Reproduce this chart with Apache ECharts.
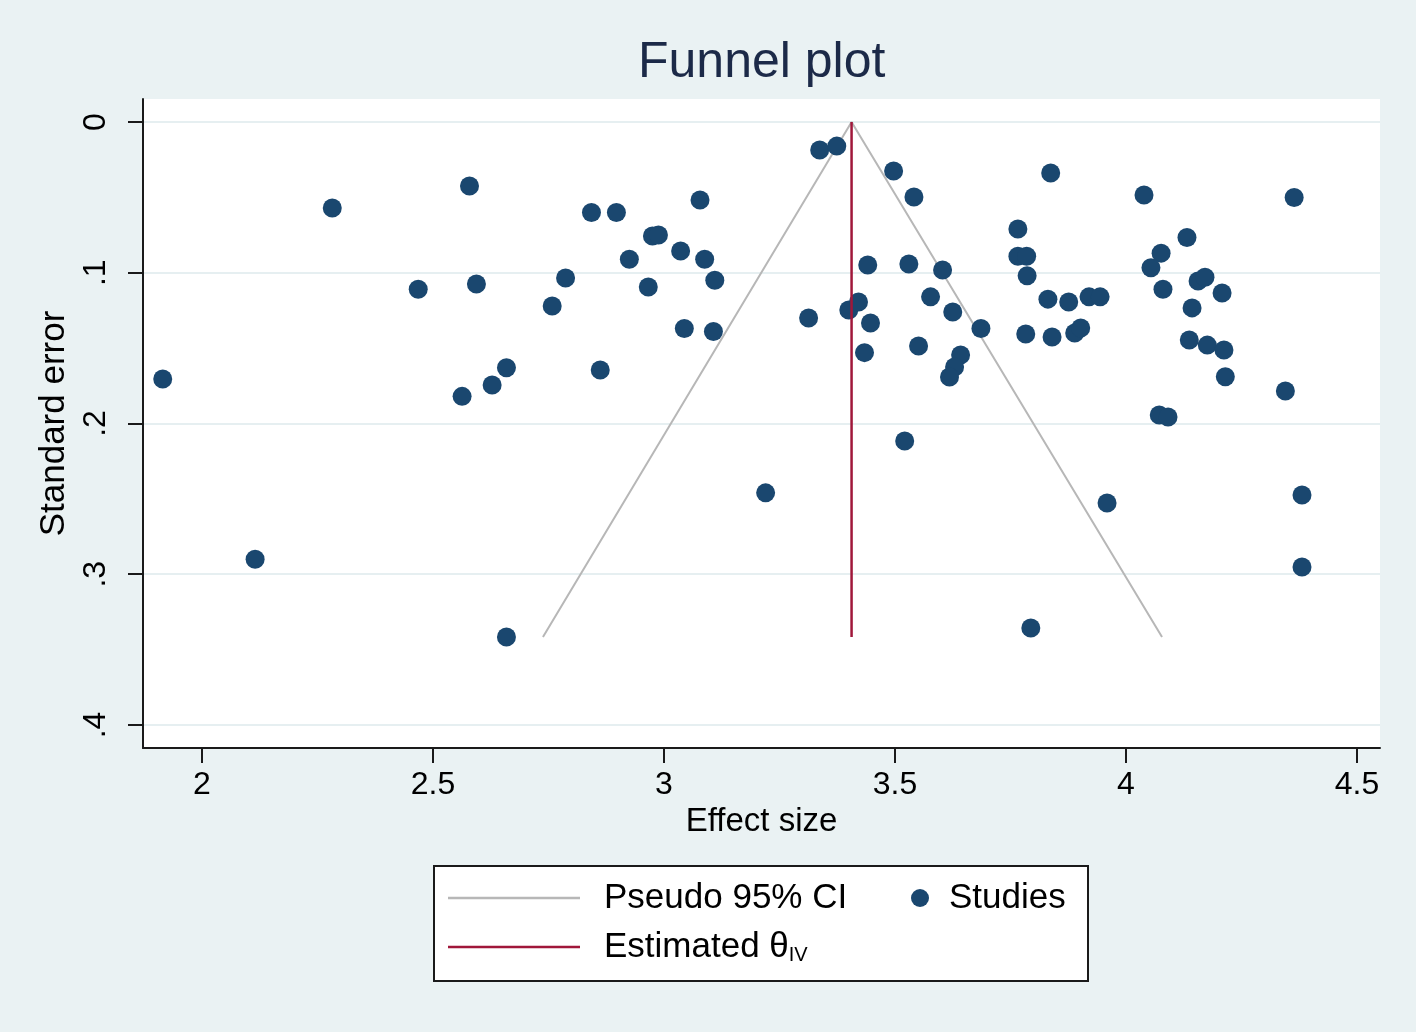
<!DOCTYPE html>
<html>
<head>
<meta charset="utf-8">
<script src="https://cdn.jsdelivr.net/npm/echarts@6/dist/echarts.min.js"></script>
<style>
html,body{margin:0;padding:0;background:#eaf2f3;}
#chart{width:1416px;height:1032px;}
</style>
</head>
<body>
<div id="chart"></div>
<script>
// ---- data ----
const studyEffect = [
  1.915, 2.115, 2.282, 2.468, 2.579, 2.594, 2.563, 2.628, 2.659, 2.659,
  2.758, 2.787, 2.843, 2.897, 2.862, 2.925, 2.966, 2.975, 2.988, 3.036,
  3.078, 3.088, 3.110, 3.044, 3.107, 3.220, 3.313, 3.337, 3.374, 3.400,
  3.421, 3.434, 3.447, 3.441, 3.497, 3.541, 3.530, 3.603, 3.577, 3.625,
  3.551, 3.686, 3.642, 3.629, 3.618, 3.521, 3.794, 3.766, 3.766, 3.785,
  3.786, 3.831, 3.876, 3.920, 3.944, 3.783, 3.840, 3.889, 3.902, 3.837,
  4.039, 4.364, 4.132, 4.076, 4.054, 4.080, 4.156, 4.171, 4.143, 4.208,
  4.137, 4.176, 4.212, 4.215, 4.345, 4.072, 4.091, 3.959, 4.381, 4.381
];
const studySE = [
  0.1705, 0.290, 0.057, 0.111, 0.0425, 0.1075, 0.182, 0.1745, 0.163, 0.3416,
  0.122, 0.1035, 0.060, 0.060, 0.1645, 0.091, 0.1095, 0.0756, 0.0750, 0.0856,
  0.0517, 0.091, 0.105, 0.137, 0.139, 0.246, 0.130, 0.0186, 0.016, 0.1247,
  0.1194, 0.153, 0.1333, 0.0949, 0.0325, 0.0498, 0.0942, 0.0982, 0.116, 0.126,
  0.1486, 0.137, 0.1546, 0.1625, 0.1692, 0.2116, 0.3357, 0.071, 0.089, 0.089,
  0.102, 0.1175, 0.1194, 0.116, 0.116, 0.1406, 0.1426, 0.140, 0.1366, 0.0338,
  0.0484, 0.0501, 0.0766, 0.087, 0.0967, 0.111, 0.1055, 0.103, 0.1233, 0.1134,
  0.1446, 0.148, 0.1512, 0.169, 0.1784, 0.1944, 0.1957, 0.2527, 0.2474, 0.2952
];
// pseudo 95% CI funnel: left foot, apex, right foot  [effect, se]
const ciEffect = [2.738, 3.406, 4.078];
const ciSE = [0.3416, 0, 0.3416];
// estimated theta line
const thetaEffect = [3.406, 3.406];
const thetaSE = [0, 0.3416];

const xTickValues = [2, 2.5, 3, 3.5, 4, 4.5];
const xTickLabels = ['2', '2.5', '3', '3.5', '4', '4.5'];
const yTickValues = [0, 0.1, 0.2, 0.3, 0.4];
const yTickLabels = ['0', '.1', '.2', '.3', '.4'];

// ---- build ----
const studies = studyEffect.map((x, i) => [x, studySE[i]]);
const ci = ciEffect.map((x, i) => [x, ciSE[i]]);
const theta = thetaEffect.map((x, i) => [x, thetaSE[i]]);

const FONT = '"Liberation Sans", Arial, sans-serif';
const chart = echarts.init(document.getElementById('chart'), null, {renderer: 'canvas'});

chart.setOption({
  backgroundColor: '#eaf2f3',
  animation: false,
  title: {
    text: 'Funnel plot',
    left: 638, top: 38, padding: 0,
    textStyle: {fontFamily: FONT, fontSize: 50, fontWeight: 'normal', color: '#1c2a48'}
  },
  grid: {
    left: 143, right: 36, top: 99, bottom: 284,
    show: true, backgroundColor: '#ffffff', borderWidth: 0
  },
  graphic: [{
    type: 'rect', left: 433, top: 865, z: 0,
    shape: {width: 654, height: 115},
    style: {fill: '#ffffff', stroke: '#1a1a1a', lineWidth: 2}
  }],
  xAxis: {
    type: 'value', min: 1.8723, max: 4.5498,
    name: 'Effect size', nameLocation: 'middle', nameGap: 56,
    nameTextStyle: {fontFamily: FONT, fontSize: 33, color: '#000'},
    axisLine: {show: true, onZero: false, lineStyle: {color: '#1a1a1a', width: 2}},
    axisTick: {show: true, length: 15, lineStyle: {color: '#1a1a1a', width: 2}, customValues: xTickValues},
    axisLabel: {
      fontFamily: FONT, fontSize: 32, color: '#000', margin: 21,
      customValues: xTickValues,
      formatter: v => xTickLabels[xTickValues.findIndex(t => Math.abs(t - v) < 1e-9)] ?? ''
    },
    splitLine: {show: false}
  },
  yAxis: {
    type: 'value', inverse: true, min: -0.01526, max: 0.41526,
    name: 'Standard error', nameLocation: 'middle', nameGap: 62,
    nameTextStyle: {fontFamily: FONT, fontSize: 35, color: '#000'},
    axisLine: {show: true, onZero: false, lineStyle: {color: '#1a1a1a', width: 2}},
    axisTick: {show: true, length: 15, lineStyle: {color: '#1a1a1a', width: 2}, customValues: yTickValues},
    axisLabel: {
      fontFamily: FONT, fontSize: 32, color: '#000', margin: 31, rotate: 90,
      customValues: yTickValues,
      formatter: v => yTickLabels[yTickValues.findIndex(t => Math.abs(t - v) < 1e-9)] ?? ''
    },
    splitLine: {show: true, lineStyle: {color: '#e6eff1', width: 2}}
  },
  legend: [
    {
      data: [{name: 'Pseudo 95% CI', icon: 'rect'}, {name: 'Estimated θ', icon: 'rect'}],
      orient: 'vertical', left: 448, top: 880, padding: 0, z: 5,
      itemWidth: 132, itemHeight: 2.5, itemGap: 13,
      textStyle: {
        fontFamily: FONT, fontSize: 35, color: '#000', lineHeight: 36, padding: [0, 0, 0, 19],
        rich: {sub: {fontFamily: FONT, fontSize: 20, color: '#000', verticalAlign: 'bottom', lineHeight: 36, padding: [12, 0, 0, 0]}}
      },
      formatter: n => n === 'Estimated θ' ? 'Estimated θ{sub|IV}' : n
    },
    {
      data: ['Studies'],
      left: 911, top: 880, padding: 0, z: 5,
      itemWidth: 18, itemHeight: 18,
      textStyle: {fontFamily: FONT, fontSize: 35, color: '#000', lineHeight: 36, padding: [0, 0, 0, 15]}
    }
  ],
  series: [
    {
      name: 'Pseudo 95% CI', type: 'line', data: ci, symbol: 'none', z: 1,
      lineStyle: {color: '#b7b7b7', width: 2}, itemStyle: {color: '#b7b7b7'}
    },
    {
      name: 'Studies', type: 'scatter', data: studies, symbol: 'circle', symbolSize: 19, z: 2,
      itemStyle: {color: '#1a476f', opacity: 1}
    },
    {
      name: 'Estimated θ', type: 'line', data: theta, symbol: 'none', z: 3,
      lineStyle: {color: '#a0173a', width: 2.5}, itemStyle: {color: '#a0173a'}
    }
  ]
});
</script>
</body>
</html>
